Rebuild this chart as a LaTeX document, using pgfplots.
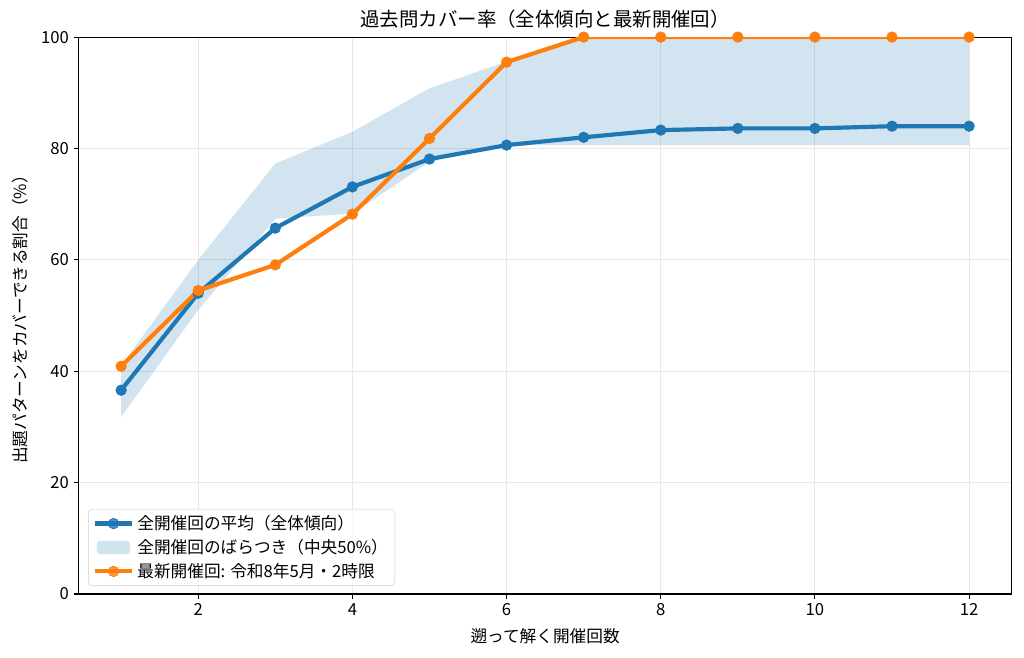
\documentclass[border=0pt]{standalone}
\usepackage{fontspec}
\setmainfont{Noto Sans CJK JP}
\usepackage{pgfplots}
\pgfplotsset{compat=1.18}
\definecolor{tabblue}{HTML}{1F77B4}
\definecolor{taborange}{HTML}{FF7F0E}
\begin{document}
\begin{tikzpicture}
\useasboundingbox (-56.7bp,-45.4bp) rectangle (680.6bp,427.7bp);
\begin{axis}[
  scale only axis, width=671.6bp, height=401bp,
  at={(0,0)}, anchor=south west,
  xmin=0.45, xmax=12.55, ymin=0, ymax=100,
  xtick={2,4,6,8,10,12}, ytick={0,20,40,60,80,100},
  /pgf/number format/assume math mode=true,
  ticklabel style={font=\fontsize{12bp}{14bp}\selectfont},
  tick align=outside, major tick length=3.5bp,
  tick style={black, line width=0.8bp},
  xtick pos=bottom, ytick pos=left,
  axis line style={black, line width=0.8bp},
  grid=major, major grid style={black!9, line width=0.8bp},
  title={過去問カバー率（全体傾向と最新開催回）},
  title style={at={(axis description cs:0.5,1)}, anchor=base, yshift=1.8bp, inner sep=0pt, font=\fontsize{14bp}{16bp}\selectfont},
  xlabel={遡って解く開催回数},
  every axis x label/.style={at={(axis description cs:0.5,0)}, anchor=base, yshift=-35bp, inner sep=0pt, font=\fontsize{12bp}{14bp}\selectfont},
  ylabel={出題パターンをカバーできる割合（\%）},
  every axis y label/.style={at={(axis description cs:0,0.5)}, xshift=-42.3bp, rotate=90, anchor=center, inner sep=0pt, font=\fontsize{12bp}{14bp}\selectfont},
  legend style={at={(axis description cs:0.0101,0.0144)}, anchor=south west,
    draw=black!18, rounded corners=2.5bp, fill=white, fill opacity=0.8, text opacity=1,
    font=\fontsize{12bp}{14bp}\selectfont, inner xsep=3bp, inner ysep=2.5bp,
    row sep=1.5bp, legend cell align=left},
  legend image code/.code={\draw[mark repeat=2,mark phase=2] plot coordinates {(0cm,0cm) (0.48cm,0cm) (0.96cm,0cm)};},
]
% band (interquartile range): upper then lower reversed
\addplot[draw=none, fill=tabblue, fill opacity=0.2, forget plot] coordinates {
  (1,41.0) (2,60.0) (3,77.3) (4,83.0) (5,90.8) (6,95.6) (7,100) (8,100) (9,100) (10,100) (11,100) (12,100)
  (12,80.6) (11,80.6) (10,80.6) (9,80.6) (8,80.6) (7,80.6) (6,80.6) (5,77.6) (4,68.3) (3,67.4) (2,51.0) (1,31.8)
} -- cycle;
\addplot[tabblue, line width=3bp, mark=*, mark size=3.8bp, mark options={solid, line width=0.5bp, fill=tabblue, draw=tabblue}, forget plot] coordinates {
  (1,36.6) (2,54.0) (3,65.7) (4,73.1) (5,78.1) (6,80.6) (7,82.0) (8,83.3) (9,83.6) (10,83.6) (11,84.0) (12,84.0)
};
\addplot[taborange, line width=3bp, mark=*, mark size=3.8bp, mark options={solid, line width=0.5bp, fill=taborange, draw=taborange}, forget plot] coordinates {
  (1,40.9) (2,54.5) (3,59.1) (4,68.2) (5,81.8) (6,95.5) (7,100) (8,100) (9,100) (10,100) (11,100) (12,100)
};
\addlegendimage{tabblue, line width=3bp, mark=*, mark size=3.8bp, mark options={line width=0.5bp, fill=tabblue}}
\addlegendentry{全開催回の平均（全体傾向）}
\addlegendimage{legend image code/.code={\path[draw=none, fill=tabblue, fill opacity=0.2] (0.05cm,-0.17cm) rectangle (0.9cm,0.17cm);}}
\addlegendentry{全開催回のばらつき（中央50\%）}
\addlegendimage{taborange, line width=3bp, mark=*, mark size=3.8bp, mark options={line width=0.5bp, fill=taborange}}
\addlegendentry{最新開催回: 令和8年5月・2時限}
\end{axis}
\end{tikzpicture}
\end{document}
